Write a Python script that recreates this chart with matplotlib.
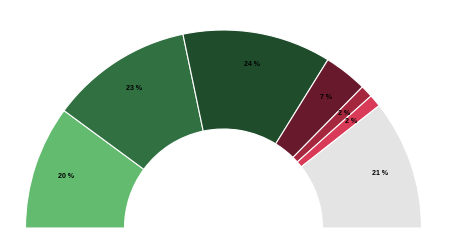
import numpy as np
import matplotlib.pyplot as plt

labels = ['20 %', '23 %', '24 %', '7 %', '2 %', '2 %', '21 %']
values = [20, 23, 24, 7, 2, 2, 21]
colors = ['#62bb6f', '#317041', '#1f4d2c', '#69192c', '#a5273e', '#d83a58', '#e4e4e4']

fig = plt.figure(figsize=(4.5, 2.5), dpi=100)
ax = fig.add_axes([0, 0, 1, 1])

# bottom half is an invisible slice so the visible part is a half donut
wedges, _ = ax.pie(values + [sum(values)], colors=colors + ['none'],
                   radius=198, startangle=180, counterclock=False,
                   wedgeprops=dict(width=99, edgecolor='white', linewidth=0.8))
wedges[-1].set_edgecolor('none')

for w, lab in zip(wedges[:-1], labels):
    mid = np.deg2rad((w.theta1 + w.theta2) / 2)
    ax.text(166 * np.cos(mid), 166 * np.sin(mid), lab, ha='center', va='center',
            fontsize=5, fontweight='bold', family='Liberation Sans', color='black')

ax.set_xlim(-223.5, 226.5)
ax.set_ylim(-22, 228)
ax.set_aspect('equal')
ax.axis('off')
fig.savefig('out.png', dpi=100)
